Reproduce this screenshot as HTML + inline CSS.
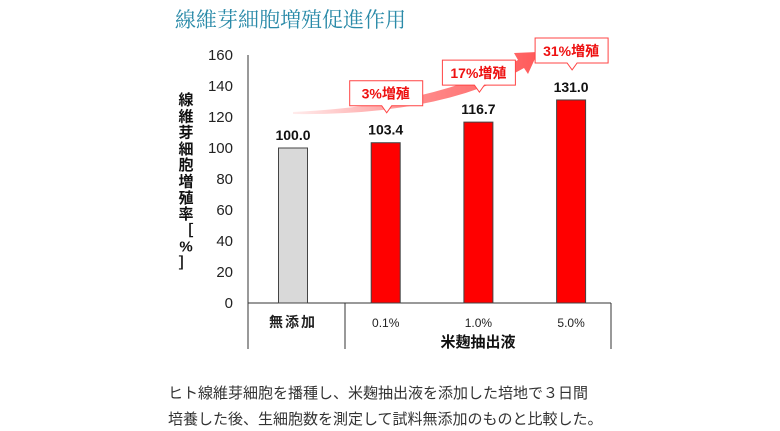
<!DOCTYPE html>
<html><head><meta charset="utf-8"><style>
body{margin:0;background:#fff;width:780px;height:431px;overflow:hidden;font-family:"Liberation Sans","Noto Sans CJK JP",sans-serif;}
.t{position:absolute;white-space:nowrap}
</style></head><body>
<div class="t" style="left:175px;top:4px;font-size:21px;color:#2a8aa8;font-family:'Noto Serif CJK SC','Noto Sans CJK JP',serif;letter-spacing:0px">線維芽細胞増殖促進作用</div>
<svg id="c" width="780" height="431" style="position:absolute;left:0;top:0"></svg>
<div class="t" style="left:168px;top:382px;font-size:15px;color:#333">ヒト線維芽細胞を播種し、米麹抽出液を添加した培地で３日間</div>
<div class="t" style="left:168px;top:408px;font-size:15px;color:#333">培養した後、生細胞数を測定して試料無添加のものと比較した。</div>
<script>
const categories=["無添加","0.1%","1.0%","5.0%"];
const values=[100.0,103.4,116.7,131.0];
const labels=["100.0","103.4","116.7","131.0"];
const ticks=[0,20,40,60,80,100,120,140,160];
const callouts=["3%増殖","17%増殖","31%増殖"];
const NS="http://www.w3.org/2000/svg";
const svg=document.getElementById('c');
function el(t,a,txt){const e=document.createElementNS(NS,t);for(const k in a)e.setAttribute(k,a[k]);if(txt!=null)e.textContent=txt;svg.appendChild(e);return e;}
const y0=303,yTop=55,ymax=160;
const y=v=>y0-(v/ymax)*(y0-yTop);
const x=i=>293+i*92.7;
const bw=29;
ticks.forEach(t=>{const e=el('text',{x:233,y:y(t)+5,'text-anchor':'end','font-size':15,fill:'#222'},t);

});
const yt="線維芽細胞増殖率［%］".split("");
yt.forEach((ch,i)=>{const e=el('text',{x:186,y:105+i*16.3,'text-anchor':'middle','font-size':15,'font-weight':'bold',fill:'#111'},ch);

});
let a=el('line',{x1:248,y1:yTop,x2:248,y2:349,stroke:'#333','stroke-width':1});

a=el('line',{x1:248,y1:y0,x2:611,y2:y0,stroke:'#333','stroke-width':1});

[345,611].forEach(xx=>{const e=el('line',{x1:xx,y1:y0,x2:xx,y2:349,stroke:'#333'});
});
const def=el('defs',{});
def.innerHTML='<linearGradient id="g" x1="0" x2="1"><stop offset="0" stop-color="#ff8080" stop-opacity="0.15"/><stop offset="0.5" stop-color="#ff7070" stop-opacity="0.8"/><stop offset="1" stop-color="#ff5a5a"/></linearGradient>';
const ar=el('path',{d:'M293,112 Q430,106 518,60 L514,53 L538,52 L528,74 L524,68 Q440,116 293,114 Z',fill:'url(#g)'});

values.forEach((v,i)=>{
const b=el('rect',{x:x(i)-bw/2,y:y(v),width:bw,height:y0-y(v),fill:i==0?'#d9d9d9':'#ff0000',stroke:'#444','stroke-width':1});

const l=el('text',{x:x(i),y:y(v)-8,'text-anchor':'middle','font-size':14,'font-weight':'bold',fill:'#111'},labels[i]);

const c=el('text',{x:x(i),y:327,'text-anchor':'middle','font-size':i==0?14:12,'font-weight':i==0?'bold':'normal',fill:'#222','letter-spacing':i==0?2:0},categories[i]);

if(i>0){
const cx=x(i),top=y(v)-62;
const g=el('path',{d:`M${cx-36},${top} h73 v25 h-31 l-5,7 l-5,-7 h-32 Z`,fill:'#fff',stroke:'#ff4444','stroke-width':1});

const ct=el('text',{x:cx,y:top+18,'text-anchor':'middle','font-size':14,'font-weight':'bold',fill:'#ee1111'},callouts[i-1]);

}});
const gl=el('text',{x:478,y:347,'text-anchor':'middle','font-size':15,'font-weight':'bold',fill:'#111'},"米麹抽出液");

</script>
</body></html>
